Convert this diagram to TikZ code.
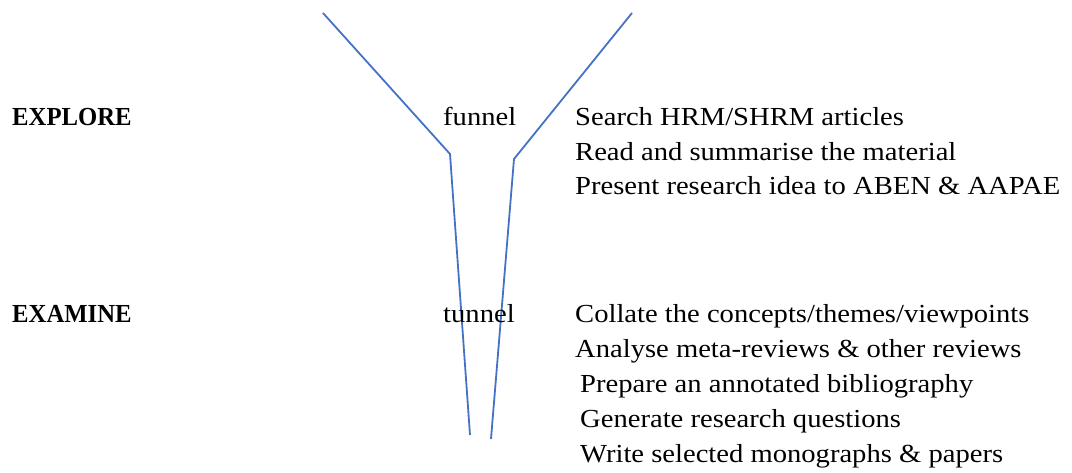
\documentclass[tikz,border=0pt]{standalone}
\usepackage{fontspec}
\setmainfont{Liberation Serif}[FakeStretch=1.1,BoldFeatures={FakeStretch=0.95}]
\definecolor{funnelblue}{HTML}{4472C4}
\begin{document}
\begin{tikzpicture}[x=1pt,y=-1pt,
  txt/.style={anchor=base west,inner sep=0pt,font=\fontsize{26}{30}\selectfont},
  hd/.style={txt,font=\fontsize{26}{30}\selectfont\bfseries},
  wall/.style={draw=funnelblue,line width=1.8pt,line join=miter}]
\useasboundingbox (0,0) rectangle (1072,473);

% the two walls of the funnel
\draw[wall] (323,13) -- (450,154) -- (470,435);
\draw[wall] (632,13) -- (514,159) -- (491,439);

% stage headings
\node[hd] (explore) at (12,126) {EXPLORE};
\node[hd] (examine) at (12,323) {EXAMINE};

% labels inside the funnel
\node[txt] (funnel) at (443,126) {funnel};
\node[txt] (tunnel) at (443,323) {tunnel};

% explore activities
\node[txt] (e1) at (575,126) {Search HRM/SHRM articles};
\node[txt] (e2) at (575,161) {Read and summarise the material};
\node[txt] (e3) at (575,195) {Present research idea to ABEN \& AAPAE};

% examine activities
\node[txt] (x1) at (575,323) {Collate the concepts/themes/viewpoints};
\node[txt] (x2) at (575,357) {Analyse meta-reviews \& other reviews};
\node[txt] (x3) at (580,392) {Prepare an annotated bibliography};
\node[txt] (x4) at (580,427) {Generate research questions};
\node[txt] (x5) at (580,462) {Write selected monographs \& papers};
\end{tikzpicture}
\end{document}
